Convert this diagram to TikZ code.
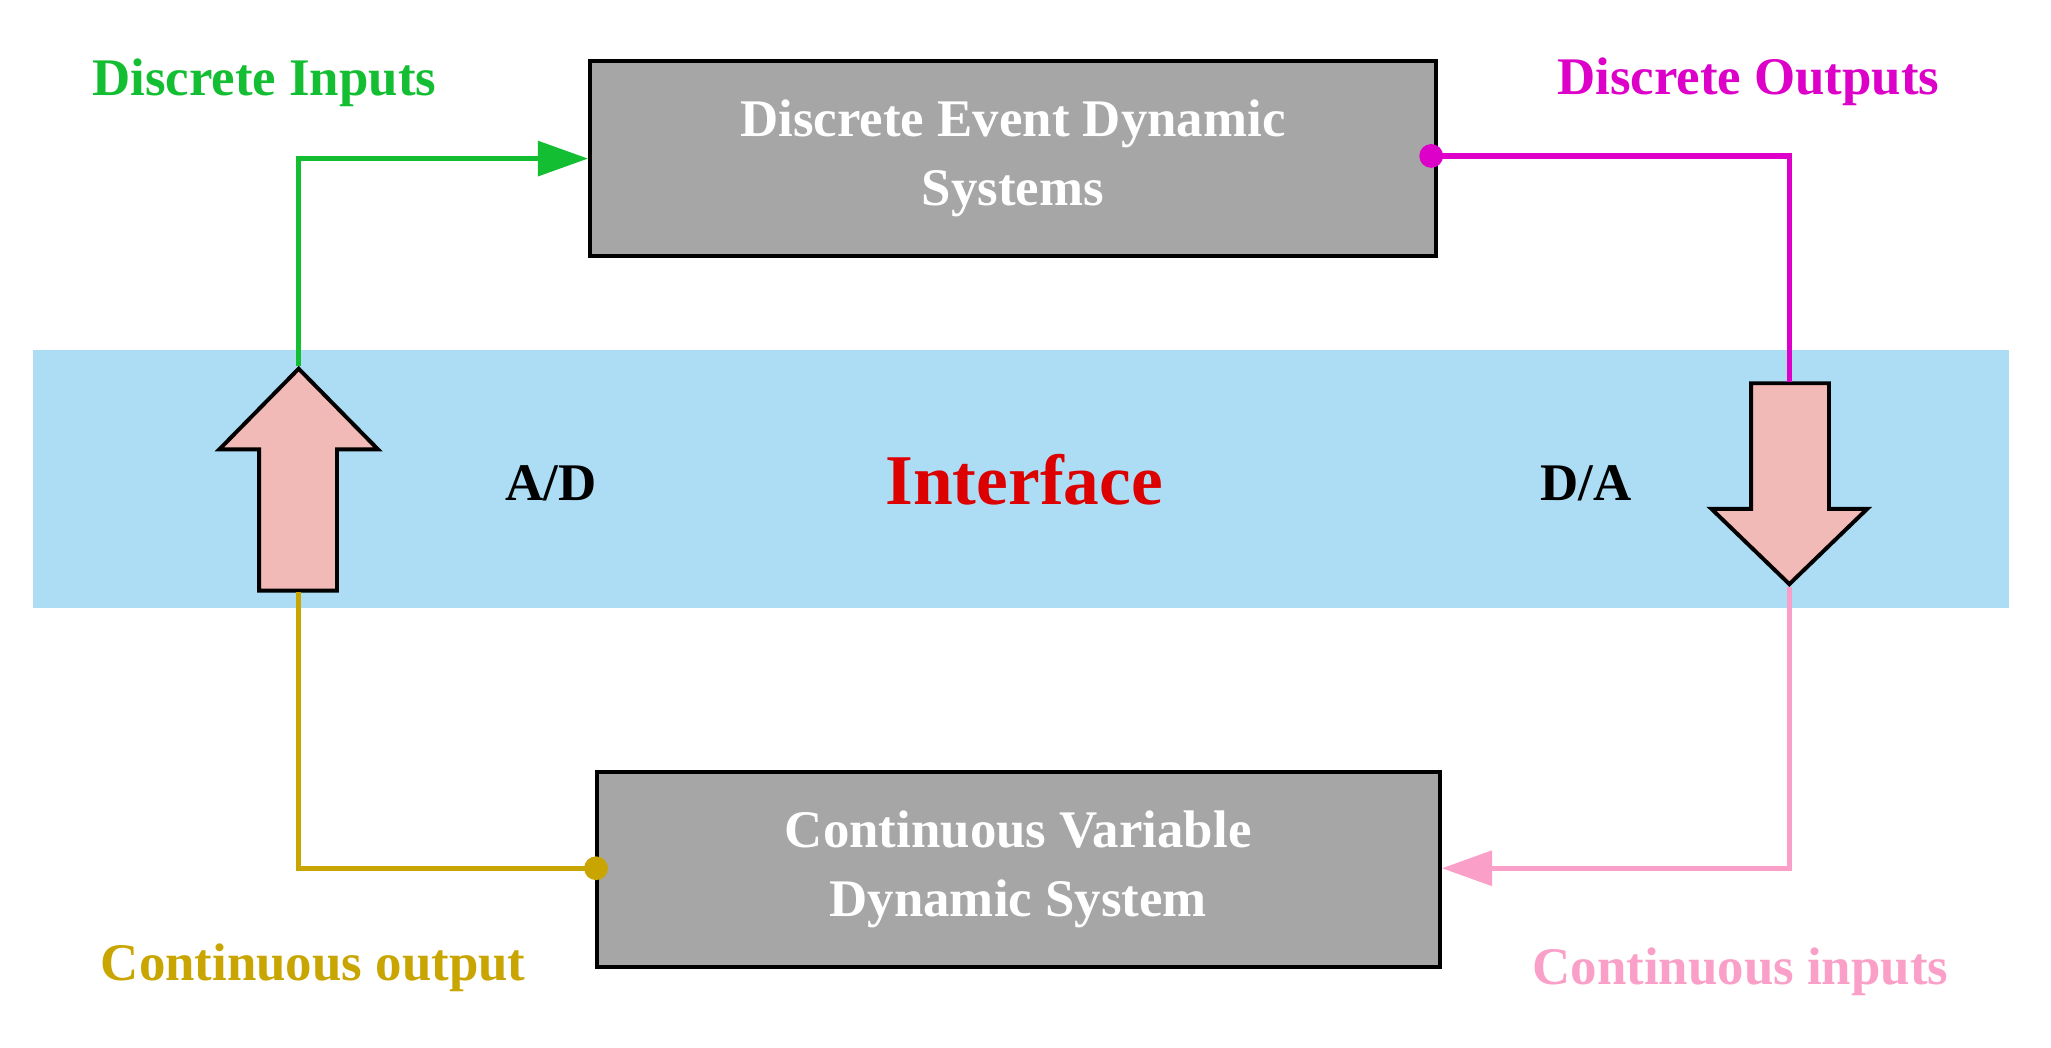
\documentclass[tikz,border=0pt]{standalone}
\usepackage{fontspec}
\setmainfont{Liberation Serif}
\usetikzlibrary{arrows.meta}
\definecolor{band}{RGB}{173,221,245}
\definecolor{gbox}{RGB}{166,166,166}
\definecolor{cgreen}{RGB}{20,190,50}
\definecolor{cmag}{RGB}{220,0,200}
\definecolor{cpink}{RGB}{250,160,200}
\definecolor{cgold}{RGB}{200,165,0}
\definecolor{cred}{RGB}{220,0,0}
\definecolor{arrfill}{RGB}{242,186,182}
\begin{document}
\begin{tikzpicture}[x=1pt,y=-1pt,
  box/.style={draw=black,line width=3pt,fill=gbox,text=white,font=\bfseries\fontsize{40}{52}\selectfont,align=center,minimum width=640pt,minimum height=147pt,anchor=north west},
  lab/.style={font=\bfseries\fontsize{40}{48}\selectfont},
  conn/.style={line width=4pt},
  fat/.style={draw=black,line width=3pt,fill=arrfill,line join=miter}]
\useasboundingbox (0,0) rectangle (1552,793);
\fill[band] (25,265) rectangle (1520,460);
\node[box] (des) at (445,45) {Discrete Event Dynamic\\Systems};
\node[box,minimum width=638pt] (cvs) at (450,583) {Continuous Variable\\Dynamic System};
\draw[fat] (196,447) -- (196,340) -- (166,340) -- (226,279) -- (286,340) -- (255,340) -- (255,447) -- cycle;
\draw[fat] (1325,290) -- (1325,385) -- (1295,385) -- (1354,442) -- (1413,385) -- (1384,385) -- (1384,290) -- cycle;
\coordinate (upT) at (226,277);
\coordinate (upB) at (226,448);
\coordinate (dnT) at (1354,289);
\coordinate (dnB) at (1354,444);
\coordinate (mdot) at (1083,118);
\coordinate (gdot) at (451,657);
\draw[conn,cgreen,-{Triangle[length=38pt,width=26pt]}] (upT) |- (des.west|-0,120);
\draw[conn,cmag] (mdot) -| (dnT);
\fill[cmag] (mdot) circle (9);
\draw[conn,cpink,-{Triangle[length=38pt,width=26pt]}] (dnB) |- (cvs.east|-0,657);
\draw[conn,cgold] (gdot) -| (upB);
\fill[cgold] (gdot) circle (9);
\node[lab,text=cgreen] (di) at (200,63) {Discrete Inputs};
\node[lab,text=cmag] (do) at (1323,62) {Discrete Outputs};
\node[lab,text=cgold] (co) at (237,732) {Continuous output};
\node[lab,text=cpink] (ci) at (1317,735) {Continuous inputs};
\node[lab] (ad) at (417,366) {A/D};
\node[lab] (da) at (1200,366) {D/A};
\node[font=\bfseries\fontsize{54}{60}\selectfont,text=cred] (if) at (775,363) {Interface};
\end{tikzpicture}
\end{document}
